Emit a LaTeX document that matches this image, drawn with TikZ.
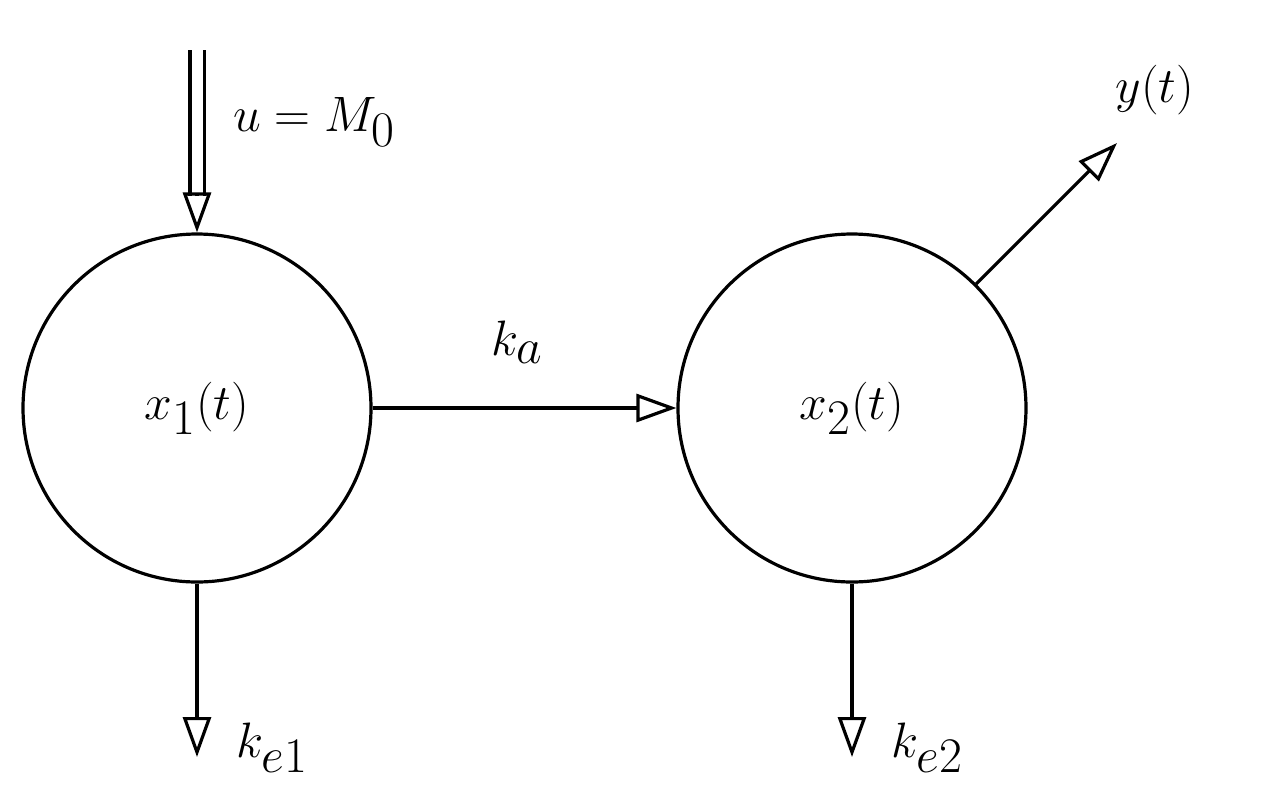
\documentclass[tikz,border=0pt]{standalone}
\usetikzlibrary{arrows.meta}
\begin{document}
\begin{tikzpicture}[x=0.5pt,y=-0.5pt,line width=1.6pt,
  comp/.style={circle,draw,minimum size=174pt,inner sep=0pt,font=\fontsize{42}{48}\selectfont},
  lbl/.style={font=\fontsize{42}{48}\selectfont},
  tip/.style={-{Triangle[open,length=20pt,width=14pt]}}]
\useasboundingbox (0,0) rectangle (1270,810);
\node[comp] (x1) at (197,408) {$x_1(t)$};
\node[comp] (x2) at (852,408) {$x_2(t)$};
\coordinate (in0) at (197,50);
\coordinate (in1) at (197,196);
\coordinate (d1) at (197,757);
\coordinate (d2) at (852,757);
\coordinate (out) at (1117,143);
\draw[double,double distance=5.5pt] (in0) -- (in1);
\draw[tip] (in1) -- (x1.north);
\draw[tip] (x1.east) -- (x2.west);
\draw[tip] (x1.south) -- (d1);
\draw[tip] (x2.south) -- (d2);
\draw[tip] (x2.45) -- (out);
\node[lbl,anchor=west] (u) at (225,122) {$u = M_0$};
\node[lbl] (ka) at (517,342) {$k_a$};
\node[lbl,anchor=west] (ke1) at (228,748) {$k_{e1}$};
\node[lbl,anchor=west] (ke2) at (883,748) {$k_{e2}$};
\node[lbl] (y) at (1155,90) {$y(t)$};
\end{tikzpicture}
\end{document}
